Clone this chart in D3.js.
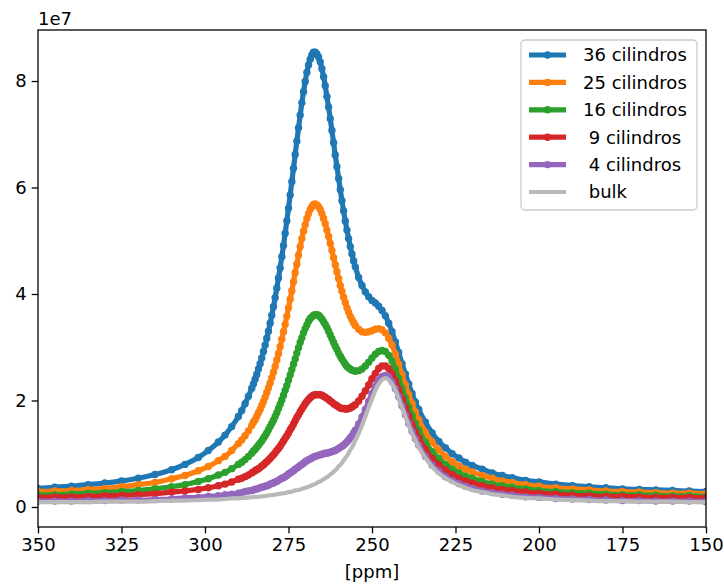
<!DOCTYPE html>
<html>
<head>
<meta charset="utf-8">
<script src="https://cdn.jsdelivr.net/npm/d3@7"></script>
<style>
  html, body { margin: 0; padding: 0; background: #fff; }
  svg { display: block; font-family: "DejaVu Sans", sans-serif; }
  text { white-space: pre; }
</style>
</head>
<body>
<svg id="chart" width="724" height="585"></svg>
<script>
// ---- data (values in units of 1e7) ----
const ppm = [350,345,340,335,330,325,320,315,310,306,302,299,296,294,292,290,289,288,287,286,
  285.5,285,284.5,284,283.5,283,282.5,282,281.5,281,
  280.5,280,279.5,279,278.5,278,277.5,277,276.5,276,
  275.5,275,274.5,274,273.5,273,272.5,272,271.5,271,
  270.5,270,269.5,269,268.5,268,267.5,267,266.5,266,
  265.5,265,264.5,264,263.5,263,262.5,262,261.5,261,
  260.5,260,259.5,259,258.5,258,257.5,257,256.5,256,
  255.5,255,
  254,253,252,251,250,249,248,247,246,245,244,243,242,241,240,239,238,237,236,
  234,232,230,228,226,224,222,220,217,214,211,208,204,200,195,190,185,180,175,170,165,160,155,150];

const cil36 = [0.35,0.37,0.39,0.42,0.45,0.49,0.54,0.61,0.70,0.80,0.93,1.06,1.22,1.35,1.51,1.70,1.81,1.94,2.08,2.23,
  2.31,2.40,2.49,2.59,2.69,2.80,2.92,3.04,3.17,3.30,
  3.45,3.60,3.76,3.93,4.11,4.30,4.49,4.70,4.91,5.14,
  5.37,5.61,5.86,6.11,6.36,6.62,6.87,7.12,7.36,7.59,
  7.80,7.99,8.16,8.30,8.41,8.49,8.54,8.54,8.51,8.45,
  8.36,8.23,8.08,7.91,7.71,7.51,7.29,7.07,6.84,6.61,
  6.39,6.17,5.96,5.75,5.56,5.37,5.20,5.04,4.89,4.75,
  4.62,4.51,
  4.31,4.16,4.04,3.95,3.88,3.83,3.77,3.69,3.59,3.45,3.29,3.10,2.90,2.69,2.50,2.31,2.13,1.97,1.83,
  1.59,1.39,1.23,1.11,1.00,0.92,0.84,0.78,0.71,0.64,0.59,0.55,0.50,0.47,0.43,0.40,0.38,0.36,0.34,0.33,0.32,0.31,0.30,0.29];

const cil25 = [0.29,0.30,0.31,0.33,0.35,0.38,0.42,0.46,0.53,0.59,0.68,0.76,0.87,0.95,1.06,1.19,1.26,1.34,1.43,1.53,
  1.59,1.64,1.70,1.77,1.83,1.91,1.98,2.06,2.15,2.24,
  2.33,2.43,2.53,2.64,2.76,2.88,3.01,3.15,3.29,3.43,
  3.58,3.74,3.90,4.06,4.23,4.40,4.56,4.73,4.89,5.04,
  5.18,5.30,5.42,5.51,5.59,5.64,5.68,5.69,5.67,5.64,
  5.59,5.51,5.42,5.32,5.20,5.08,4.95,4.82,4.68,4.55,
  4.42,4.29,4.16,4.05,3.94,3.84,3.74,3.66,3.58,3.52,
  3.46,3.41,
  3.34,3.29,3.28,3.29,3.31,3.34,3.35,3.33,3.27,3.17,3.04,2.87,2.68,2.48,2.29,2.11,1.94,1.78,1.64,
  1.40,1.22,1.07,0.95,0.85,0.77,0.71,0.66,0.59,0.54,0.49,0.46,0.42,0.39,0.36,0.34,0.32,0.30,0.29,0.28,0.27,0.26,0.26,0.25];

const cil16 = [0.23,0.23,0.24,0.26,0.27,0.29,0.31,0.34,0.38,0.42,0.48,0.53,0.60,0.65,0.72,0.80,0.84,0.89,0.95,1.01,
  1.05,1.08,1.12,1.16,1.20,1.24,1.29,1.34,1.39,1.45,
  1.51,1.57,1.63,1.70,1.77,1.85,1.93,2.01,2.10,2.19,
  2.28,2.38,2.48,2.58,2.68,2.78,2.89,2.99,3.09,3.18,
  3.27,3.35,3.42,3.49,3.54,3.57,3.60,3.61,3.61,3.60,
  3.57,3.53,3.48,3.43,3.37,3.30,3.23,3.16,3.09,3.02,
  2.96,2.89,2.83,2.78,2.73,2.68,2.64,2.61,2.59,2.57,
  2.56,2.55,
  2.56,2.59,2.65,2.72,2.80,2.87,2.92,2.94,2.92,2.85,2.74,2.59,2.41,2.23,2.05,1.88,1.72,1.57,1.44,
  1.22,1.04,0.91,0.80,0.71,0.64,0.58,0.54,0.48,0.43,0.40,0.37,0.34,0.31,0.29,0.27,0.26,0.24,0.23,0.23,0.22,0.21,0.21,0.20];

const cil9 = [0.18,0.19,0.19,0.20,0.21,0.22,0.23,0.25,0.28,0.30,0.33,0.36,0.40,0.43,0.47,0.52,0.54,0.57,0.60,0.64,
  0.66,0.68,0.70,0.72,0.74,0.77,0.79,0.82,0.85,0.88,
  0.91,0.95,0.98,1.02,1.06,1.10,1.14,1.19,1.24,1.29,
  1.34,1.39,1.45,1.50,1.56,1.62,1.68,1.73,1.79,1.84,
  1.89,1.94,1.98,2.02,2.05,2.08,2.10,2.11,2.11,2.11,
  2.11,2.10,2.08,2.06,2.04,2.02,1.99,1.97,1.94,1.92,
  1.90,1.88,1.86,1.85,1.85,1.84,1.84,1.85,1.86,1.88,
  1.90,1.92,
  1.99,2.08,2.18,2.29,2.41,2.51,2.60,2.65,2.65,2.60,2.50,2.37,2.21,2.04,1.87,1.70,1.55,1.41,1.29,
  1.08,0.91,0.79,0.69,0.61,0.54,0.49,0.45,0.40,0.36,0.33,0.31,0.28,0.26,0.24,0.22,0.21,0.20,0.20,0.19,0.18,0.18,0.18,0.17];

const cil4 = [0.11,0.11,0.11,0.12,0.12,0.13,0.13,0.14,0.15,0.17,0.18,0.20,0.21,0.23,0.24,0.26,0.27,0.29,0.30,0.31,
  0.32,0.33,0.34,0.35,0.36,0.37,0.38,0.39,0.40,0.41,
  0.43,0.44,0.45,0.47,0.48,0.50,0.52,0.54,0.55,0.57,
  0.59,0.62,0.64,0.66,0.68,0.71,0.73,0.75,0.78,0.80,
  0.82,0.85,0.87,0.89,0.90,0.92,0.94,0.95,0.96,0.97,
  0.98,0.99,1.00,1.01,1.01,1.02,1.03,1.04,1.05,1.06,
  1.08,1.10,1.12,1.14,1.16,1.19,1.22,1.26,1.30,1.34,
  1.39,1.44,
  1.56,1.69,1.83,1.98,2.13,2.27,2.38,2.45,2.47,2.44,2.35,2.22,2.07,1.90,1.73,1.57,1.42,1.28,1.16,
  0.95,0.79,0.67,0.57,0.50,0.44,0.39,0.35,0.30,0.27,0.24,0.22,0.19,0.18,0.16,0.15,0.14,0.13,0.12,0.12,0.11,0.11,0.11,0.10];

const bulk = [0.09,0.09,0.09,0.09,0.10,0.10,0.10,0.11,0.12,0.12,0.13,0.14,0.14,0.15,0.16,0.16,0.17,0.17,0.18,0.18,
  0.19,0.19,0.19,0.19,0.20,0.20,0.20,0.21,0.21,0.22,
  0.22,0.22,0.23,0.23,0.24,0.24,0.25,0.25,0.26,0.26,
  0.27,0.28,0.28,0.29,0.30,0.31,0.31,0.32,0.33,0.34,
  0.35,0.36,0.37,0.38,0.39,0.41,0.42,0.43,0.45,0.47,
  0.48,0.50,0.52,0.54,0.56,0.58,0.61,0.63,0.66,0.69,
  0.72,0.76,0.79,0.83,0.87,0.92,0.96,1.01,1.07,1.12,
  1.18,1.25,
  1.38,1.53,1.70,1.87,2.03,2.19,2.31,2.39,2.42,2.39,2.31,2.19,2.03,1.87,1.70,1.53,1.38,1.25,1.12,
  0.92,0.76,0.63,0.54,0.47,0.41,0.36,0.32,0.28,0.24,0.22,0.19,0.17,0.16,0.14,0.13,0.12,0.11,0.11,0.10,0.10,0.10,0.09,0.09];

const seriesNames = ["36 cilindros", "25 cilindros", "16 cilindros", " 9 cilindros", " 4 cilindros", " bulk"];
const seriesValues = [cil36, cil25, cil16, cil9, cil4, bulk];
const seriesColors = ["#1f77b4", "#ff7f0e", "#2ca02c", "#d62728", "#9467bd", "#b9b9b9"];
const seriesMarkers = [true, true, true, true, true, false];

const xTicks = [350, 325, 300, 275, 250, 225, 200, 175, 150];
const yTicks = [0, 2, 4, 6, 8];
const xLabel = "[ppm]";
const yOffsetText = "1e7";

// ---- layout ----
const L = 38, R = 706, T = 30, B = 527;
const FS = 18;
const svg = d3.select("#chart");

const x = d3.scaleLinear().domain([350, 150]).range([L, R]);
const y = d3.scaleLinear().domain([-0.376, 8.958]).range([B, T]);

svg.append("defs").append("clipPath").attr("id", "clip")
  .append("rect").attr("x", L).attr("y", T).attr("width", R - L).attr("height", B - T);

const plot = svg.append("g").attr("clip-path", "url(#clip)");

const line = d3.line()
  .x((d) => x(d[0]))
  .y((d) => y(d[1]))
  .curve(d3.curveMonotoneX);

seriesValues.forEach((vals, i) => {
  const pts = ppm.map((p, k) => [p, vals[k]]);
  const g = plot.append("g");
  g.append("path")
    .datum(pts)
    .attr("d", line)
    .attr("fill", "none")
    .attr("stroke", seriesColors[i])
    .attr("stroke-width", seriesMarkers[i] ? 5.2 : 4.2)
    .attr("stroke-linejoin", "round")
    .attr("stroke-linecap", "butt");
  if (seriesMarkers[i]) {
    g.selectAll("circle")
      .data(pts)
      .join("circle")
      .attr("cx", (d) => x(d[0]))
      .attr("cy", (d) => y(d[1]))
      .attr("r", 3.7)
      .attr("fill", seriesColors[i]);
  }
});

// ---- axes ----
const xAxis = d3.axisBottom(x).tickValues(xTicks).tickFormat(d3.format("d"))
  .tickSizeInner(6.3).tickSizeOuter(0).tickPadding(5);
const yAxis = d3.axisLeft(y).tickValues(yTicks).tickFormat(d3.format("d"))
  .tickSizeInner(6.3).tickSizeOuter(0).tickPadding(5);

const gx = svg.append("g").attr("transform", `translate(0,${B})`).call(xAxis);
const gy = svg.append("g").attr("transform", `translate(${L},0)`).call(yAxis);
[gx, gy].forEach((g) => {
  g.select(".domain").remove();
  g.selectAll(".tick line").attr("stroke", "#000").attr("stroke-width", 1.3);
  g.selectAll(".tick text").attr("fill", "#000")
    .style("font-family", '"DejaVu Sans", sans-serif').style("font-size", FS + "px");
});

// frame
svg.append("rect").attr("x", L).attr("y", T).attr("width", R - L).attr("height", B - T)
  .attr("fill", "none").attr("stroke", "#000").attr("stroke-width", 1.3);

// labels
svg.append("text").attr("x", (L + R) / 2).attr("y", 578).attr("text-anchor", "middle")
  .style("font-size", FS + "px").attr("fill", "#000").text(xLabel);
svg.append("text").attr("x", L).attr("y", 25).attr("text-anchor", "start")
  .style("font-size", FS + "px").attr("fill", "#000").text(yOffsetText);

// ---- legend ----
const lg = svg.append("g");
lg.append("rect").attr("x", 521).attr("y", 40).attr("width", 176).attr("height", 170)
  .attr("rx", 4).attr("fill", "#fff").attr("fill-opacity", 0.8)
  .attr("stroke", "#cccccc").attr("stroke-width", 1.3);
seriesNames.forEach((name, i) => {
  const cy = 55 + i * 27.4;
  lg.append("line").attr("x1", 529).attr("x2", 566).attr("y1", cy).attr("y2", cy)
    .attr("stroke", seriesColors[i]).attr("stroke-width", seriesMarkers[i] ? 5.2 : 4.2);
  if (seriesMarkers[i]) {
    lg.append("circle").attr("cx", 547.5).attr("cy", cy).attr("r", 3.7).attr("fill", seriesColors[i]);
  }
  lg.append("text").attr("x", 583).attr("y", cy).attr("dy", "0.36em")
    .style("font-size", FS + "px").attr("fill", "#000").text(name);
});
</script>
</body>
</html>
